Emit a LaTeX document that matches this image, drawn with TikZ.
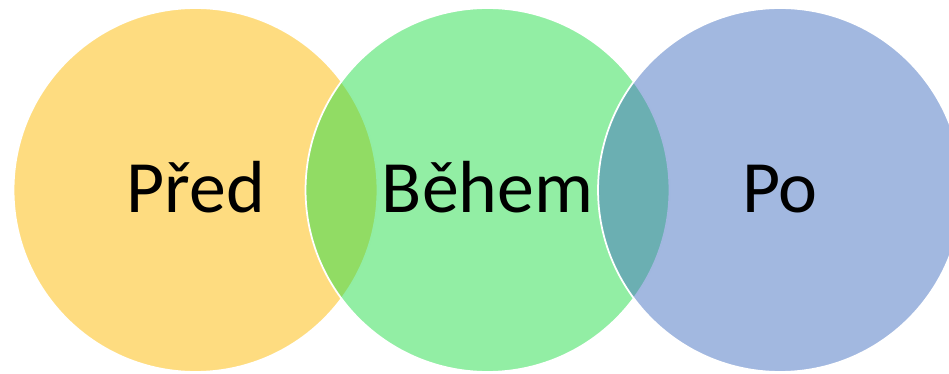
\documentclass[tikz,border=0pt]{standalone}
\definecolor{beforeyellow}{RGB}{253, 186, 2}
\definecolor{duringgreen}{RGB}{37, 221, 73}
\definecolor{afterblue}{RGB}{69, 113, 193}
\usepackage{fontspec}
\setmainfont{Carlito}
\usetikzlibrary{positioning}

\begin{document}
\begin{tikzpicture}[x=0.02cm, y=-0.02cm, venn/.style={circle, draw=white, line width=1pt, fill opacity=0.5, minimum size=7.28cm, inner sep=0pt}, phase/.style={anchor=base, inner sep=0pt, font=\fontsize{42}{50}\selectfont}]
      \useasboundingbox (0,0) rectangle (949,374);
      \clip (0,0) rectangle (949,374);
      \node (pred) [venn, fill=beforeyellow] at (195.5,190) {};
      \node (behem) [venn, fill=duringgreen] at (487.5,190) {};
      \node (po) [venn, fill=afterblue] at (780,190) {};
      
      \node (predtext) [phase] at ([yshift=-0.46cm]pred.center) {Před};
      \node (behemtext) [phase] at ([yshift=-0.46cm]behem.center) {Během};
      \node (potext) [phase] at ([yshift=-0.46cm]po.center) {Po};
    \end{tikzpicture}
\end{document}
